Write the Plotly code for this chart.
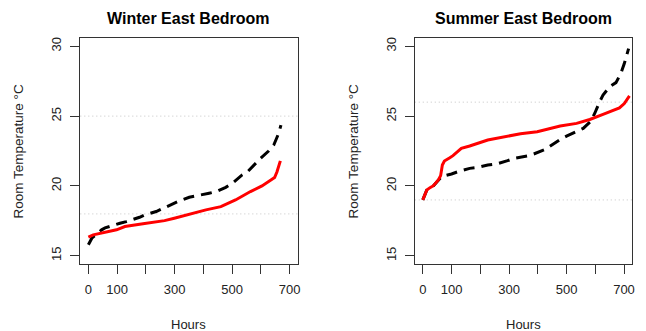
import plotly.graph_objects as go

# ---- data ----
winter_red_h = [0, 17, 98, 127, 190, 265, 299, 363, 409, 461, 512, 564, 604, 648, 656, 668]
winter_red_t = [16.34, 16.5, 16.86, 17.1, 17.29, 17.52, 17.69, 18.05, 18.29, 18.52, 19.0, 19.6, 20.0, 20.6, 21.0, 21.8]

winter_blk_h = [0, 12, 46, 58, 110, 132, 178, 196, 236, 294, 311, 351, 380, 420, 446, 478, 501, 535,
                553, 581, 599, 627, 645, 662, 670]
winter_blk_t = [15.79, 16.26, 16.86, 17.0, 17.33, 17.45, 17.76, 17.93, 18.17, 18.76, 18.88, 19.19, 19.29,
                19.48, 19.6, 19.9, 20.19, 20.79, 21.0, 21.6, 21.98, 22.5, 22.93, 23.76, 24.36]

summer_red_h = [0, 14, 25, 37, 54, 62, 68, 75, 94, 105, 134, 163, 226, 283, 340, 398, 432, 478, 535,
                581, 627, 684, 701, 719]
summer_red_t = [19.0, 19.71, 19.88, 20.02, 20.43, 20.74, 21.5, 21.79, 22.02, 22.17, 22.69, 22.86, 23.29,
                23.52, 23.74, 23.88, 24.05, 24.29, 24.48, 24.76, 25.12, 25.59, 25.9, 26.45]

summer_blk_h = [0, 14, 25, 37, 54, 65, 100, 122, 163, 192, 226, 255, 295, 318, 363, 386, 426, 443, 478,
                500, 535, 558, 583, 598, 615, 627, 650, 672, 689, 701, 716]
summer_blk_t = [19.0, 19.71, 19.88, 20.02, 20.4, 20.67, 20.86, 21.02, 21.26, 21.33, 21.5, 21.57, 21.81,
                21.98, 22.14, 22.29, 22.62, 22.86, 23.33, 23.57, 23.88, 24.12, 24.6, 25.19, 26.02, 26.5,
                27.1, 27.4, 28.05, 28.76, 29.83]

winter_limits = [18, 25]
summer_limits = [19, 26]

x_tick_vals = [0, 100, 200, 300, 400, 500, 600, 700]
x_tick_text = ["0", "100", "", "300", "", "500", "", "700"]
y_tick_vals = [15, 20, 25, 30]

titles = ["Winter East Bedroom", "Summer East Bedroom"]

# ---- figure ----
W, H = 646, 331
FONT = "Liberation Sans, Arial, sans-serif"
dom_x = [[80.7 / W, 299 / W], [416.7 / W, 635 / W]]
dom_y = [1 - 264 / H, 1 - 37 / H]

fig = go.Figure()
dash = "11px,7px"
panels = [
    (winter_blk_h, winter_blk_t, winter_red_h, winter_red_t, winter_limits),
    (summer_blk_h, summer_blk_t, summer_red_h, summer_red_t, summer_limits),
]
for i, (bh, bt, rh, rt, lim) in enumerate(panels):
    xa = "x" if i == 0 else "x2"
    ya = "y" if i == 0 else "y2"
    fig.add_trace(go.Scatter(x=bh, y=bt, mode="lines", xaxis=xa, yaxis=ya,
                             line=dict(color="black", width=3, dash=dash), showlegend=False))
    fig.add_trace(go.Scatter(x=rh, y=rt, mode="lines", xaxis=xa, yaxis=ya,
                             line=dict(color="#FF0000", width=3), showlegend=False))
    for v in lim:
        fig.add_shape(type="line", xref=f"{xa} domain", yref=ya, x0=0, x1=1, y0=v, y1=v,
                      line=dict(color="#C4C4C4", width=1, dash="1px,3px"), layer="below")

axis_common = dict(showgrid=False, zeroline=False, showline=True, linecolor="#333333", linewidth=1,
                   mirror=True, ticks="outside", ticklen=9, tickcolor="#333333", tickwidth=1,
                   tickfont=dict(family=FONT, size=13, color="#222222"))

for i in range(2):
    sfx = "" if i == 0 else "2"
    fig.layout["xaxis" + sfx] = dict(axis_common, domain=dom_x[i], range=[-28, 728],
                                     tickvals=x_tick_vals, ticktext=x_tick_text,
                                     anchor="y" + sfx, ticklabelstandoff=4)
    fig.layout["yaxis" + sfx] = dict(axis_common, domain=dom_y, range=[14.4, 30.6],
                                     tickvals=y_tick_vals, tickangle=-90,
                                     anchor="x" + sfx, ticklabelstandoff=4)

annotations = []
for i in range(2):
    cx = (dom_x[i][0] + dom_x[i][1]) / 2
    annotations.append(dict(text=f"<b>{titles[i]}</b>", x=cx, y=1 - 17.5 / H, xref="paper", yref="paper",
                            xanchor="center", yanchor="middle", showarrow=False,
                            font=dict(family=FONT, size=16, color="black")))
    annotations.append(dict(text="Hours", x=cx, y=1 - 324 / H, xref="paper", yref="paper",
                            xanchor="center", yanchor="middle", showarrow=False,
                            font=dict(family=FONT, size=13, color="#222222")))
    ax_x = [19 / W, 355.5 / W][i]
    annotations.append(dict(text="Room Temperature °C", x=ax_x, y=1 - 151 / H, xref="paper", yref="paper",
                            xanchor="center", yanchor="middle", showarrow=False, textangle=-90,
                            font=dict(family=FONT, size=13.5, color="#222222")))

fig.update_layout(width=W, height=H, margin=dict(l=0, r=0, t=0, b=0),
                  paper_bgcolor="white", plot_bgcolor="white", annotations=annotations,
                  showlegend=False)

fig.write_html("out.html", config={"displayModeBar": False},
               post_script="document.body.style.margin='0px';document.body.style.overflow='hidden';")
